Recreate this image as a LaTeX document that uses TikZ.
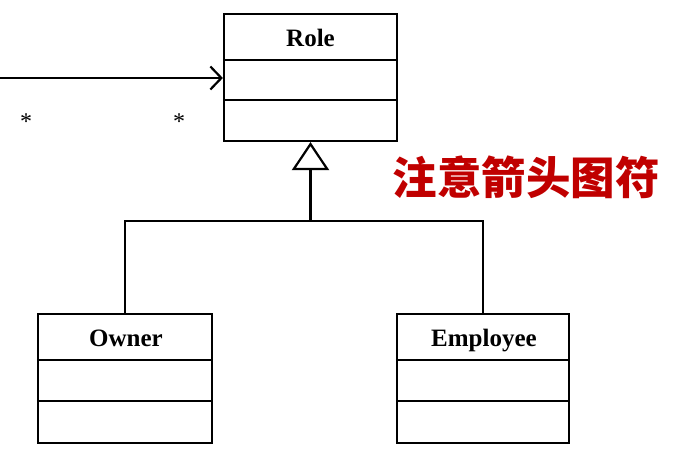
\documentclass[tikz,border=0pt]{standalone}
\usepackage{fontspec}
\setmainfont{Liberation Serif}
\newfontfamily\cjk{Noto Sans CJK SC}
\usetikzlibrary{arrows.meta}
\definecolor{warnred}{RGB}{192,0,0}
\tikzset{
  classbox/.style={draw, line width=2.2pt, minimum height=#1, inner sep=0pt},
  classname/.style={font=\fontsize{25}{28}\selectfont\bfseries, inner sep=0pt, anchor=base},
  conn/.style={line width=2.2pt},
  mult/.style={font=\fontsize{24}{26}\selectfont, inner sep=0pt},
}
\begin{document}
\begin{tikzpicture}[x=1pt,y=-1pt]
\useasboundingbox (0,0) rectangle (697,471);
% Role
\node[classbox=127pt, minimum width=173pt] (role) at (310.5,77.5) {};
\draw[conn] ([yshift=-47pt]role.north west) -- ([yshift=-47pt]role.north east);
\draw[conn] ([yshift=-87pt]role.north west) -- ([yshift=-87pt]role.north east);
\node[classname] (rolename) at (310.5,46.5) {Role};
% Owner
\node[classbox=129pt, minimum width=174pt] (owner) at (125,378.5) {};
\draw[conn] ([yshift=-47pt]owner.north west) -- ([yshift=-47pt]owner.north east);
\draw[conn] ([yshift=-88pt]owner.north west) -- ([yshift=-88pt]owner.north east);
\node[classname] (ownername) at (126,346.5) {Owner};
% Employee
\node[classbox=129pt, minimum width=172pt] (emp) at (483,378.5) {};
\draw[conn] ([yshift=-47pt]emp.north west) -- ([yshift=-47pt]emp.north east);
\draw[conn] ([yshift=-88pt]emp.north west) -- ([yshift=-88pt]emp.north east);
\node[classname] (empname) at (484,346.5) {Employee};
% inheritance
\coordinate (join) at (310.5,221);
\draw[conn] (owner.north) |- (join) -| (emp.north);
\draw[conn, -{Triangle[open, length=28pt, width=37pt, line width=2.2pt]}] (join) -- (role.south);
% association
\coordinate (start) at (0,78);
\draw[conn, -{Straight Barb[length=11pt, width=23pt, line width=2.2pt]}] (start) -- (start -| role.west);
\node[mult] (m1) at (26,122) {*};
\node[mult] (m2) at (179,122) {*};
% note
\node[font=\cjk\bfseries\fontsize{44.5}{48}\selectfont, text=warnred, inner sep=0pt] (note) at (526,177) {注意箭头图符};
\end{tikzpicture}
\end{document}
